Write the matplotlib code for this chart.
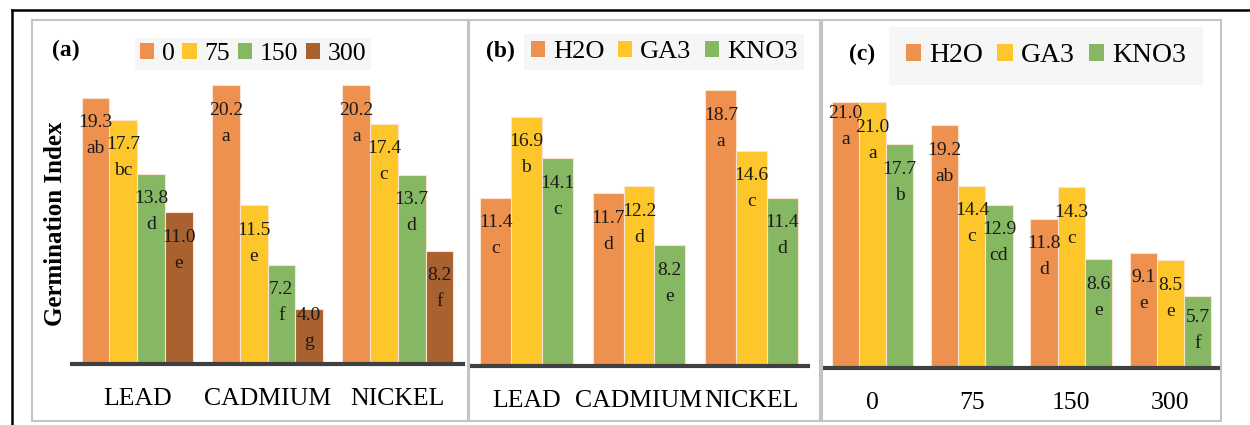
import matplotlib
matplotlib.use("Agg")
from matplotlib import pyplot as plt
from matplotlib.patches import Rectangle
from matplotlib.lines import Line2D

plt.rcParams['font.family'] = ['Liberation Serif', 'DejaVu Serif']

# ---------------- data ----------------
metals = ['LEAD', 'CADMIUM', 'NICKEL']
doses = ['0', '75', '150', '300']
primers = ['H2O', 'GA3', 'KNO3']

# (a) metal x dose
a_vals = {
    '0':   [19.3, 20.2, 20.2],
    '75':  [17.7, 11.5, 17.4],
    '150': [13.8, 7.2, 13.7],
    '300': [11.0, 4.0, 8.2],
}
a_letters = {
    '0':   ['ab', 'a', 'a'],
    '75':  ['bc', 'e', 'c'],
    '150': ['d', 'f', 'd'],
    '300': ['e', 'g', 'f'],
}

# (b) metal x priming
b_vals = {
    'H2O':  [11.4, 11.7, 18.7],
    'GA3':  [16.9, 12.2, 14.6],
    'KNO3': [14.1, 8.2, 11.4],
}
b_letters = {
    'H2O':  ['c', 'd', 'a'],
    'GA3':  ['b', 'd', 'c'],
    'KNO3': ['c', 'e', 'd'],
}

# (c) dose x priming
c_vals = {
    'H2O':  [21.0, 19.2, 11.8, 9.1],
    'GA3':  [21.0, 14.4, 14.3, 8.5],
    'KNO3': [17.7, 12.9, 8.6, 5.7],
}
c_letters = {
    'H2O':  ['a', 'ab', 'd', 'e'],
    'GA3':  ['a', 'c', 'c', 'e'],
    'KNO3': ['b', 'cd', 'e', 'f'],
}

colors4 = ['#EE914F', '#FDC62A', '#86B864', '#A8612F']
colors3 = colors4[:3]

# label nudges (pixels below bar top for the value label)
nudge = {('a', '300', 1): 7, ('c', 'H2O', 0): 11, ('c', 'KNO3', 3): 22}

W, H = 1250, 425
fig = plt.figure(figsize=(W / 100, H / 100), dpi=100)


def px_axes(x0, x1, base, top, scale):
    ax = fig.add_axes([x0 / W, (H - base) / H, (x1 - x0) / W, (base - top) / H])
    ax.set_ylim(0, (base - top) / scale)
    ax.patch.set_alpha(0)
    return ax


def draw_panel(ax, key, cats, series, vals, letters, colors, group_w):
    n = len(series)
    bw = group_w / n
    for i, s in enumerate(series):
        xs = [j - group_w / 2 + bw * (i + 0.5) for j in range(len(cats))]
        ax.bar(xs, vals[s], width=bw, color=colors[i], edgecolor='#fbe3d2',
               linewidth=0.8, label=s)
        for j, (x, v) in enumerate(zip(xs, vals[s])):
            off = nudge.get((key, s, j), 25)
            ax.annotate(f'{v:.1f}', (x, v), xytext=(0, -off * 0.72),
                        textcoords='offset points', ha='center', va='center',
                        fontsize=14, color='#1a1a1a')
            ax.annotate(letters[s][j], (x, v), xytext=(0, -(off + 26) * 0.72),
                        textcoords='offset points', ha='center', va='center',
                        fontsize=14, color='#1a1a1a')
    ax.set_xlim(-0.5, len(cats) - 0.5)
    ax.set_xticks(range(len(cats)))
    ax.set_xticklabels(cats, fontsize=18.5)
    ax.tick_params(axis='x', length=0, pad=17)
    ax.set_yticks([])
    for sp in ['top', 'right', 'left']:
        ax.spines[sp].set_visible(False)
    ax.spines['bottom'].set_linewidth(3)
    ax.spines['bottom'].set_color('#404040')


# panel frames
for x0, x1 in [(32, 468), (469, 820), (822, 1221)]:
    fig.patches.append(Rectangle((x0 / W, (H - 421) / H), (x1 - x0) / W, (421 - 20) / H,
                                 transform=fig.transFigure, fill=False,
                                 edgecolor='#c4c4c4', linewidth=1.5))
# outer black frame lines
fig.lines.append(Line2D([12 / W, 1], [(H - 10) / H] * 2, transform=fig.transFigure,
                        color='black', linewidth=1.8))
fig.lines.append(Line2D([12 / W] * 2, [0, (H - 10) / H], transform=fig.transFigure,
                        color='black', linewidth=1.8))

# (a)
ax_a = px_axes(72, 463, 364, 30, 13.8)
draw_panel(ax_a, 'a', metals, doses, a_vals, a_letters, colors4, 0.85)
ax_a.set_ylabel('Germination Index', fontsize=18, fontweight='bold')
ax_a.yaxis.set_label_coords(-0.012, 0.42)

# (b)
ax_b = px_axes(470, 808, 366, 30, 14.75)
draw_panel(ax_b, 'b', metals, primers, b_vals, b_letters, colors3, 0.82)

# (c)
ax_c = px_axes(823, 1220, 368, 30, 12.65)
draw_panel(ax_c, 'c', doses, primers, c_vals, c_letters, colors3, 0.82)

# panel tags
for tag, x, y in [('(a)', 66, 50), ('(b)', 500, 51), ('(c)', 862, 54)]:
    fig.text(x / W, (H - y) / H, tag, fontsize=17, fontweight='bold',
             ha='center', va='center')

# legends
leg_specs = [(ax_a, 253, 54, 4, 18.5, 0.2, 0.3), (ax_b, 664, 52, 3, 19, 0.25, 0.5),
             (ax_c, 1046, 56, 3, 20, 0.6, 0.5)]
for ax, cx, cy, nc, fs, bp, cs in leg_specs:
    leg = ax.legend(loc='center', bbox_to_anchor=(cx / W, (H - cy) / H),
                    bbox_transform=fig.transFigure, ncol=nc, fontsize=fs,
                    frameon=True, fancybox=False, facecolor='#f6f6f6',
                    edgecolor='none', framealpha=1, handlelength=0.55,
                    handleheight=0.55, handletextpad=0.3, columnspacing=cs,
                    borderpad=bp, borderaxespad=0)
    for h in leg.legend_handles:
        h.set_edgecolor('none')

fig.savefig('out.png', dpi=100)
